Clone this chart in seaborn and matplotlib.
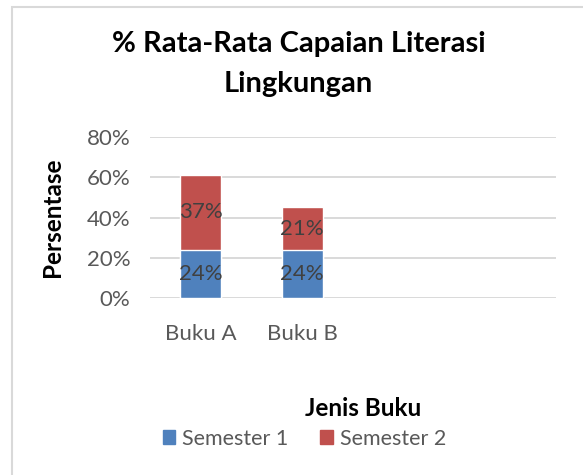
import matplotlib
matplotlib.use("Agg")
import matplotlib.pyplot as plt
import seaborn as sns
import pandas as pd
from matplotlib.patches import Rectangle

books = ["Buku A", "Buku B"]
semester_1 = [0.24, 0.24]
semester_2 = [0.37, 0.21]
y_ticks = [0.0, 0.2, 0.4, 0.6, 0.8]

BLUE = "#4f81bd"
RED = "#c0504d"
GRAY_TXT = "#595959"
LABEL_TXT = "#404040"
GRID = "#d9d9d9"

sns.set_theme(style="white")
plt.rcParams["font.family"] = ["Lato", "DejaVu Sans"]

df = pd.DataFrame({"book": books, "s1": semester_1, "s2": semester_2})
df["total"] = df["s1"] + df["s2"]

fig = plt.figure(figsize=(5.83, 4.75), dpi=100)
ax = fig.add_axes([0.257, 0.3726, 0.697, 0.339])

# stacked: total drawn first (red), semester 1 over it (blue)
sns.barplot(data=df, x="book", y="total", color=RED, saturation=1, width=0.4, ax=ax, legend=False)
sns.barplot(data=df, x="book", y="s1", color=BLUE, saturation=1, width=0.4, ax=ax, legend=False)

top_bars = ax.containers[0]
bottom_bars = ax.containers[1]
ax.bar_label(bottom_bars, labels=[f"{v:.0%}" for v in semester_1], label_type="center",
             color=LABEL_TXT, fontsize=16)
for bar, v, b in zip(top_bars, semester_2, semester_1):
    ax.text(bar.get_x() + bar.get_width() / 2, b + v / 2, f"{v:.0%}", ha="center", va="center",
            color=LABEL_TXT, fontsize=16)

ax.set_xlim(-0.5, 3.5)
ax.set_ylim(0, 0.8)
ax.set_yticks(y_ticks)
ax.set_yticklabels([f"{t:.0%}" for t in y_ticks])
ax.yaxis.grid(True, color=GRID, linewidth=1.4)
ax.set_axisbelow(True)
for s in ax.spines.values():
    s.set_visible(False)
ax.tick_params(axis="both", length=0, labelsize=16, labelcolor=GRAY_TXT)
ax.tick_params(axis="y", pad=14)
ax.tick_params(axis="x", pad=19)
ax.set_xlabel("")
ax.set_ylabel("Persentase", fontsize=17.5, fontweight="bold", color="black", labelpad=16)

fig.text(0.512, 0.935, "% Rata-Rata Capaian Literasi\nLingkungan", ha="center", va="top",
         fontsize=21, fontweight="bold", color="black", linespacing=1.68)
fig.text(0.622, 0.14, "Jenis Buku", ha="center", va="center", fontsize=17.5, fontweight="bold", color="black")

handles = [Rectangle((0, 0), 1, 1, color=BLUE), Rectangle((0, 0), 1, 1, color=RED)]
fig.legend(handles, ["Semester 1", "Semester 2"], loc="center", bbox_to_anchor=(0.522, 0.076),
           ncol=2, frameon=False, fontsize=15.5, labelcolor=GRAY_TXT, handlelength=0.6,
           handleheight=0.6, handletextpad=0.3, columnspacing=1.5)

fig.patches.append(Rectangle((12 / 583, -0.05), 1.1, 1 - 7 / 475 + 0.05, transform=fig.transFigure,
                             fill=False, edgecolor=GRID, linewidth=1.5))

fig.savefig("out.png", dpi=100)
